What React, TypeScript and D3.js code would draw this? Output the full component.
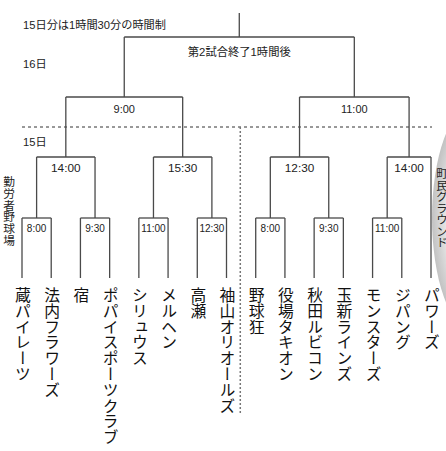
import React from "react";
import * as d3 from "d3";

const teams = [
  "蔵パイレーツ", "法内フラワーズ", "宿", "ポパイスポーツクラブ",
  "シリュウス", "メルヘン", "高瀬", "袖山オリオールズ",
  "野球狂", "役場タキオン", "秋田ルビコン", "玉新ラインズ",
  "モンスターズ", "ジパング", "パワーズ",
];
// round 1: pairs of team indices
const round1Pairs = [[0, 1], [2, 3], [4, 5], [6, 7], [8, 9], [10, 11], [12, 13]];
const round1Times = ["8:00", "9:30", "11:00", "12:30", "8:00", "9:30", "11:00"];
// round 2: children are "m<i>" (round-1 match) or "t<i>" (team with bye)
const round2Pairs = [["m0", "m1"], ["m2", "m3"], ["m4", "m5"], ["m6", "t14"]];
const round2Times = ["14:00", "15:30", "12:30", "14:00"];
const round3Times = ["9:00", "11:00"];
const finalLabel = "第2試合終了1時間後";
const noteTop = "15日分は1時間30分の時間制";
const dayLabels = ["16日", "15日"];
const venueLeft = "勤労者野球場";
const venueRight = "町民グラウンド";

const W = 446, H = 451;
const FONT = "'Liberation Sans', Arial, 'Noto Sans CJK JP', sans-serif";
const STROKE = "#4a4a4a";

type Node = { x: number; y: number; label?: string; kids: Node[] };

export default function App() {
  const x = d3.scalePoint<number>().domain(d3.range(teams.length)).range([22, 431]);
  const yR1 = 218, yR2 = 157, yR3 = 97, yF = 37, yTeam = 278;

  const teamNodes: Node[] = teams.map((_, i) => ({ x: x(i)!, y: yTeam, kids: [] }));
  const r1: Node[] = round1Pairs.map((p, i) => ({
    x: (teamNodes[p[0]].x + teamNodes[p[1]].x) / 2, y: yR1, label: round1Times[i],
    kids: [teamNodes[p[0]], teamNodes[p[1]]],
  }));
  const pick = (k: string) => (k[0] === "m" ? r1[+k.slice(1)] : teamNodes[+k.slice(1)]);
  const r2: Node[] = round2Pairs.map((p, i) => {
    const a = pick(p[0]), b = pick(p[1]);
    return { x: (a.x + b.x) / 2, y: yR2, label: round2Times[i], kids: [a, b] };
  });
  const r3: Node[] = [0, 1].map((i) => {
    const a = r2[2 * i], b = r2[2 * i + 1];
    return { x: (a.x + b.x) / 2, y: yR3, label: round3Times[i], kids: [a, b] };
  });
  const fin: Node = { x: (r3[0].x + r3[1].x) / 2, y: yF, label: finalLabel, kids: r3 };

  const lines: { x1: number; y1: number; x2: number; y2: number }[] = [];
  const labels: { x: number; y: number; t: string; size: number }[] = [];
  const labelOff: Record<number, [number, number]> = { 218: [10, 10], 157: [11, 11.8], 97: [12, 11], 37: [15, 11.3] };
  const walk = (n: Node) => {
    if (!n.kids.length) return;
    const [a, b] = n.kids;
    lines.push({ x1: a.x, y1: n.y, x2: b.x, y2: n.y });
    n.kids.forEach((k) => {
      lines.push({ x1: k.x, y1: n.y, x2: k.x, y2: k.y });
      walk(k);
    });
    const [off, size] = labelOff[n.y];
    labels.push({ x: n.x, y: n.y + off, t: n.label!, size });
  };
  walk(fin);
  lines.push({ x1: fin.x, y1: 13, x2: fin.x, y2: yF });

  return (
    <svg width={W} height={H} style={{ position: "absolute", left: 0, top: 0, background: "#fff" }} fontFamily={FONT}>
      <defs>
        <radialGradient id="g" cx="0.5" cy="0.5" r="0.5">
          <stop offset="0.6" stopColor="#ececec" />
          <stop offset="1" stopColor="#c2c2c2" />
        </radialGradient>
      </defs>
      <ellipse cx={473} cy={218} rx={41} ry={112} fill="url(#g)" />
      <line x1={22} x2={432} y1={127} y2={127} stroke="#333" strokeWidth={1} strokeDasharray="3,3" />
      <line x1={fin.x + 1} x2={fin.x + 1} y1={127} y2={414} stroke="#777" strokeWidth={1.5} strokeDasharray="2,2" />
      {lines.map((l, i) => (
        <line key={i} {...l} stroke={STROKE} strokeWidth={1.3} />
      ))}
      {labels.map((l, i) => (
        <text key={i} x={l.x} y={l.y} fontSize={l.size} textAnchor="middle" dominantBaseline="central" fill="#222">
          {l.t}
        </text>
      ))}
      <text x={23} y={25} fontSize={11.2} dominantBaseline="central" fill="#222">{noteTop}</text>
      <text x={23} y={64} fontSize={11.2} dominantBaseline="central" fill="#222">{dayLabels[0]}</text>
      <text x={23} y={142} fontSize={11.2} dominantBaseline="central" fill="#222">{dayLabels[1]}</text>
      <text x={8} y={176} fontSize={11.7} style={{ writingMode: "vertical-rl" }} fill="#222">{venueLeft}</text>
      <text x={441} y={168} fontSize={11.5} style={{ writingMode: "vertical-rl" }} fill="#222">{venueRight}</text>
      {teams.map((t, i) => (
        <text key={t} x={x(i)!} y={287} fontSize={15.8} style={{ writingMode: "vertical-rl" }} fill="#111">
          {t}
        </text>
      ))}
    </svg>
  );
}
